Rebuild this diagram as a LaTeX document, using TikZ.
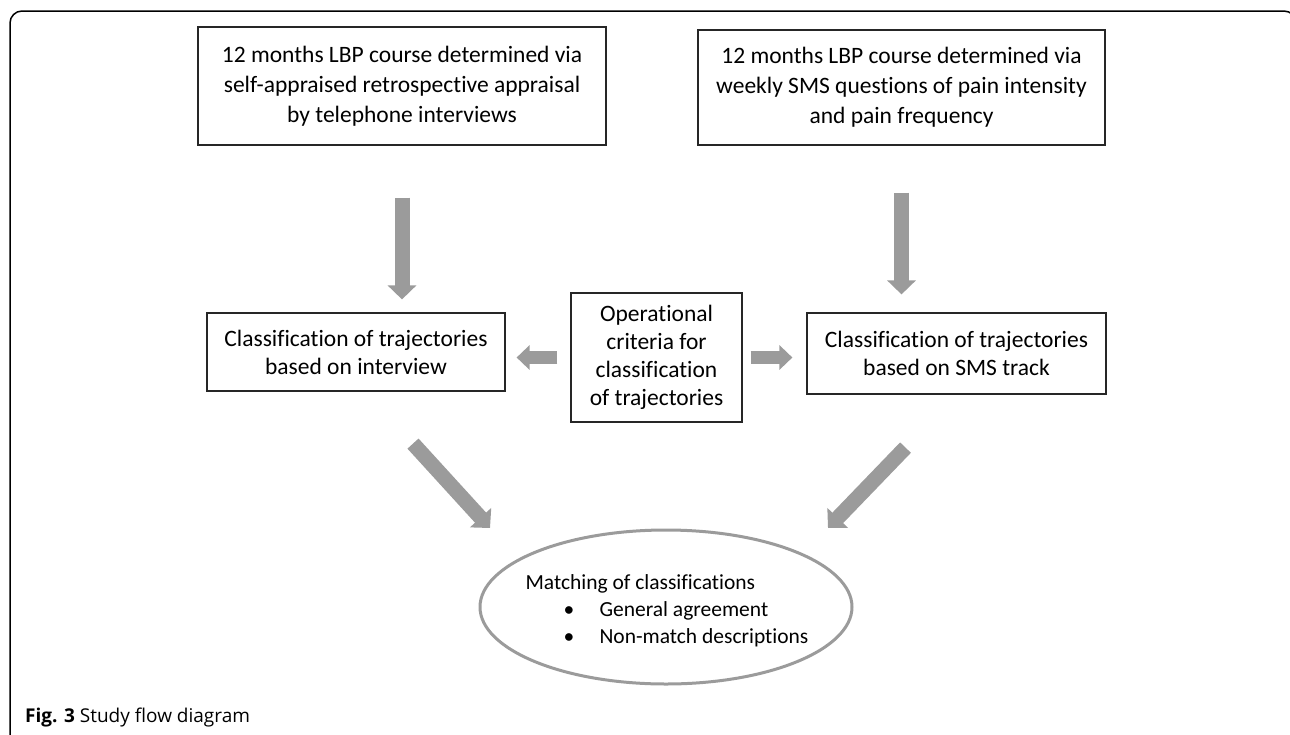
\documentclass[tikz,border=0pt]{standalone}
\usepackage{fontspec}
\setmainfont[Ligatures=CommonOff]{Carlito}
\newfontfamily\capfont{Open Sans}
\usetikzlibrary{arrows.meta,shapes.geometric}
\definecolor{freccia}{HTML}{9B9B9B}
\tikzset{
  box/.style={draw=black!85, line width=1.2pt, align=center, inner sep=0pt, font=\fontsize{23.5}{28}\selectfont},
  fat/.style={freccia, line width=15pt, -{Triangle[length=14pt,width=28pt]}},
  thin fat/.style={freccia, line width=13pt, -{Triangle[length=13pt,width=24pt]}},
}
\begin{document}
\begin{tikzpicture}[x=1pt, y=-1pt]
    \useasboundingbox (0,0) rectangle (1290,734);
    \clip (0,0) rectangle (1290,734);
    %disegno cornice
    \draw[line width=1.5pt, rounded corners=12pt] (10,760)--(10,11)--(1296,11)--(1296,760);
    %disegno riquadri in alto
    \node[box, font=\fontsize{23.5}{30}\selectfont, minimum width=408, minimum height=118] (b1) at (402,86)
        {12 months LBP course determined via\\self-appraised retrospective appraisal\\by telephone interviews};
    \node[box, font=\fontsize{23.5}{30}\selectfont, minimum width=407, minimum height=115] (b2) at (901.5,87.5)
        {12 months LBP course determined via\\weekly SMS questions of pain intensity\\and pain frequency};
    %disegno classificazioni
    \node[box, minimum width=298, minimum height=78] (c1) at (356,352)
        {Classification of trajectories\\based on interview};
    \node[box, minimum width=171, minimum height=129] (op) at (656.5,357.5)
        {Operational\\criteria for\\classification\\of trajectories};
    \node[box, minimum width=299, minimum height=81] (c2) at (956.5,353.5)
        {Classification of trajectories\\based on SMS track};
    %disegno ellisse
    \node[ellipse, draw=freccia, line width=3pt, minimum width=372, minimum height=154, inner sep=0pt] (m) at (666,607) {};
    \node[align=left, inner sep=0pt, font=\fontsize{21.5}{27}\selectfont] (mt) at (667,611)
        {Matching of classifications\\
         \hspace*{38pt}\makebox[36pt][l]{\textbullet}General agreement\\
         \hspace*{38pt}\makebox[36pt][l]{\textbullet}Non-match descriptions};
    %disegno frecce
    \draw[fat, shorten <=52pt, shorten >=13pt] (b1.south) -- (b1.south |- c1.north);
    \draw[fat, shorten <=47pt, shorten >=18pt] (b2.south) -- (b2.south |- c2.north);
    \draw[thin fat, shorten <=13pt, shorten >=11pt] (op.west) -- (op.west -| c1.east);
    \draw[thin fat, shorten <=8pt, shorten >=14pt] (op.east) -- (op.east -| c2.west);
    \draw[fat] ([shift={(57,52)}]c1.south) -- ([shift={(-176,-79)}]m.center);
    \draw[fat] ([shift={(-51,53)}]c2.south) -- ([shift={(162,-79)}]m.center);
    %didascalia
    \node[anchor=base west, inner sep=0pt, font=\capfont\fontsize{19}{20}\selectfont] (cap) at (25,722)
        {\textbf{Fig. 3} Study flow diagram};
\end{tikzpicture}
\end{document}
